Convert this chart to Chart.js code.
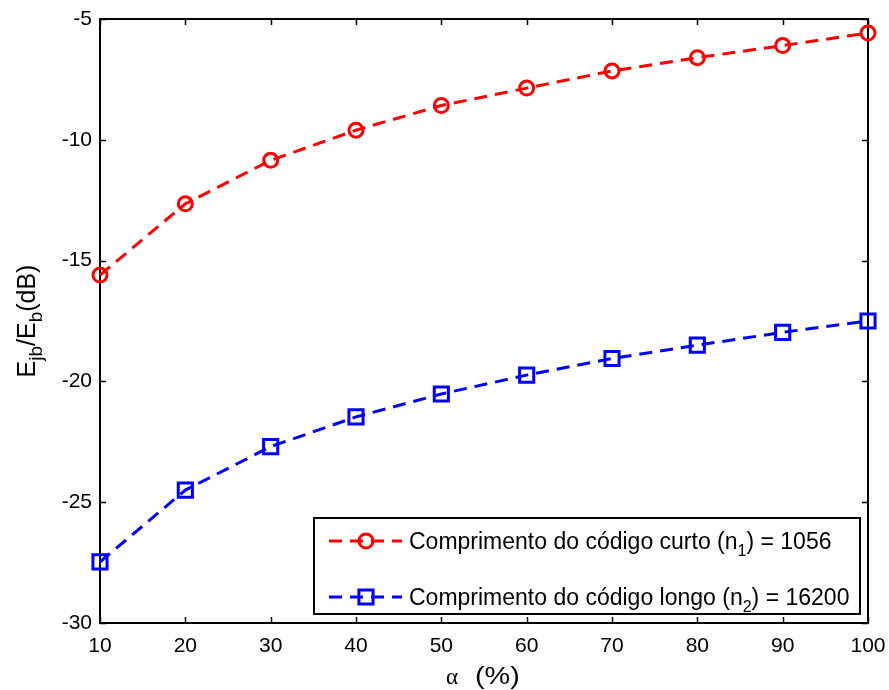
<!DOCTYPE html>
<html>
<head>
<meta charset="utf-8">
<script src="https://cdn.jsdelivr.net/npm/chart.js@4.4.1/dist/chart.umd.min.js"></script>
<style>
html,body{margin:0;padding:0;background:#fff;}
#wrap{width:889px;height:690px;}
</style>
</head>
<body>
<div id="wrap"><canvas id="c" width="889" height="690"></canvas></div>
<script>
const alphaPct = [10, 20, 30, 40, 50, 60, 70, 80, 90, 100];
const shortCode = [-15.6, -12.65, -10.85, -9.6, -8.58, -7.86, -7.15, -6.6, -6.1, -5.58];
const longCode = [-27.47, -24.5, -22.7, -21.47, -20.52, -19.74, -19.05, -18.5, -17.97, -17.5];
const xTicks = [10, 20, 30, 40, 50, 60, 70, 80, 90, 100];
const yTicks = [-30, -25, -20, -15, -10, -5];
const legendLabels = [
  ['Comprimento do código curto (n', '1', ') = 1056'],
  ['Comprimento do código longo (n', '2', ') = 16200']
];

const SANS = '"Liberation Sans", Arial, sans-serif';
const TICK_FONT = 21;

function drawSegments(ctx, x, y, segs) {
  let cx = x;
  for (const [t, size, dy] of segs) {
    ctx.font = size + 'px ' + SANS;
    ctx.fillText(t, cx, y + dy);
    cx += ctx.measureText(t).width;
  }
  return cx;
}
function segWidth(ctx, segs) {
  let w = 0;
  for (const [t, size] of segs) { ctx.font = size + 'px ' + SANS; w += ctx.measureText(t).width; }
  return w;
}

const boxPlugin = {
  id: 'boxPlugin',
  beforeDatasetsDraw(chart) {
    const ctx = chart.ctx, a = chart.chartArea;
    const xs = chart.scales.x, ys = chart.scales.y;
    ctx.save();
    ctx.strokeStyle = '#000';
    ctx.lineWidth = 2;
    ctx.strokeRect(a.left, a.top, a.right - a.left, a.bottom - a.top);
    const tl = 6;
    ctx.lineWidth = 1.5;
    ctx.beginPath();
    for (const v of xTicks) {
      const px = Math.round(xs.getPixelForValue(v)) + 0.5;
      ctx.moveTo(px, a.bottom); ctx.lineTo(px, a.bottom - tl);
      ctx.moveTo(px, a.top); ctx.lineTo(px, a.top + tl);
    }
    for (const v of yTicks) {
      const py = Math.round(ys.getPixelForValue(v)) + 0.5;
      ctx.moveTo(a.left, py); ctx.lineTo(a.left + tl, py);
      ctx.moveTo(a.right, py); ctx.lineTo(a.right - tl, py);
    }
    ctx.stroke();
    ctx.restore();
  },
  afterDraw(chart) {
    const ctx = chart.ctx, a = chart.chartArea;
    ctx.save();
    ctx.fillStyle = '#000';
    ctx.textBaseline = 'alphabetic';
    // Y title
    const ySegs = [['E', 25, 0], ['jb', 19, 7], ['/E', 25, 0], ['b', 19, 7], ['(dB)', 25, 0]];
    const yw = segWidth(ctx, ySegs);
    ctx.translate(35, (a.top + a.bottom) / 2);
    ctx.rotate(-Math.PI / 2);
    drawSegments(ctx, -yw / 2, 0, ySegs);
    ctx.setTransform(1, 0, 0, 1, 0, 0);
    // X title
    ctx.font = '23px "Liberation Serif", "Times New Roman", serif';
    ctx.fillText('α', 446, 684);
    ctx.save();
    ctx.translate(475, 684);
    ctx.scale(1.25, 1);
    ctx.font = '23px ' + SANS;
    ctx.fillText('(%)', 0, 0);
    ctx.restore();

    // Legend
    const lx = 314, ly = 518, lw = 546, lh = 96;
    ctx.fillStyle = '#fff';
    ctx.fillRect(lx, ly, lw, lh);
    ctx.strokeStyle = '#000';
    ctx.lineWidth = 2;
    ctx.strokeRect(lx, ly, lw, lh);
    const rowsY = [ly + 23, ly + 79];
    chart.data.datasets.forEach((ds, i) => {
      const y = rowsY[i];
      ctx.save();
      ctx.strokeStyle = ds.borderColor;
      ctx.lineWidth = ds.borderWidth;
      ctx.setLineDash(ds.borderDash);
      ctx.beginPath();
      ctx.moveTo(329, y); ctx.lineTo(402, y);
      ctx.stroke();
      ctx.setLineDash([]);
      ctx.lineWidth = ds.pointBorderWidth;
      ctx.beginPath();
      if (ds.pointStyle === 'circle') {
        ctx.arc(366, y, ds.pointRadius, 0, Math.PI * 2);
      } else {
        const h = ds.pointRadius * Math.SQRT1_2;
        ctx.rect(366 - h, y - h, 2 * h, 2 * h);
      }
      ctx.stroke();
      ctx.restore();
      ctx.fillStyle = '#000';
      const L = legendLabels[i];
      drawSegments(ctx, 409, y + 8, [[L[0], 23, 0], [L[1], 16, 7], [L[2], 23, 0]]);
    });
    ctx.restore();
  }
};

const mk = (arr) => alphaPct.map((x, i) => ({ x, y: arr[i] }));

new Chart(document.getElementById('c'), {
  type: 'line',
  data: {
    datasets: [
      {
        label: 'curto', data: mk(shortCode),
        borderColor: '#ff0000', backgroundColor: 'rgba(0,0,0,0)',
        borderWidth: 3, borderDash: [13, 8],
        pointStyle: 'circle', pointRadius: 7, pointBorderWidth: 3,
        pointBackgroundColor: 'rgba(0,0,0,0)', pointBorderColor: '#ff0000',
        tension: 0, clip: false
      },
      {
        label: 'longo', data: mk(longCode),
        borderColor: '#0000ff', backgroundColor: 'rgba(0,0,0,0)',
        borderWidth: 3, borderDash: [13, 8],
        pointStyle: 'rect', pointRadius: 10, pointBorderWidth: 3,
        pointBackgroundColor: 'rgba(0,0,0,0)', pointBorderColor: '#0000ff',
        tension: 0, clip: false
      }
    ]
  },
  options: {
    responsive: false,
    animation: false,
    events: [],
    layout: { padding: { left: 0, right: 21, top: 19, bottom: 0 } },
    plugins: { legend: { display: false }, tooltip: { enabled: false } },
    scales: {
      x: {
        type: 'linear', min: 10, max: 100,
        afterFit(s) { s.height = 67; s.paddingLeft = 0; s.paddingRight = 0; },
        afterBuildTicks(s) { s.ticks = xTicks.map(v => ({ value: v })); },
        grid: { display: false, drawTicks: false },
        border: { display: false },
        ticks: { color: '#000', font: { size: TICK_FONT, family: SANS }, padding: 11, maxRotation: 0, autoSkip: false }
      },
      y: {
        type: 'linear', min: -30, max: -5,
        afterFit(s) { s.width = 100; s.paddingTop = 0; s.paddingBottom = 0; },
        afterBuildTicks(s) { s.ticks = yTicks.map(v => ({ value: v })); },
        grid: { display: false, drawTicks: false },
        border: { display: false },
        ticks: { color: '#000', font: { size: TICK_FONT, family: SANS }, padding: 8 }
      }
    }
  },
  plugins: [boxPlugin]
});
</script>
</body>
</html>
